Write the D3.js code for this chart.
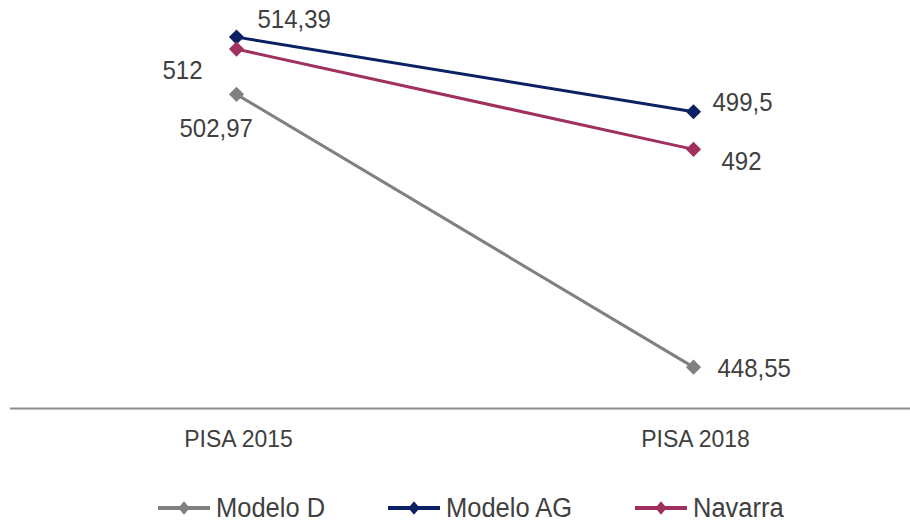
<!DOCTYPE html>
<html><head><meta charset="utf-8">
<script src="https://cdn.jsdelivr.net/npm/d3@7"></script>
<style>html,body{margin:0;padding:0;background:#fff;}svg{display:block;font-family:"Liberation Sans",Arial,sans-serif;}</style>
</head><body><svg id="c" width="910" height="524"></svg>
<script>
const categories = ["PISA 2015", "PISA 2018"];
const seriesNames = ["Modelo D", "Modelo AG", "Navarra"];
const modeloD = [502.97, 448.55];
const modeloAG = [514.39, 499.5];
const navarra = [512, 492];
const labelsD = ["502,97", "448,55"];
const labelsAG = ["514,39", "499,5"];
const labelsN = ["512", "492"];
const colors = ["#808080", "#0b2163", "#a0305d"];

const series = [
  {name: seriesNames[0], values: modeloD, labels: labelsD, color: colors[0],
   pos: [{dx: -57, dy: 43}, {dx: 24, dy: 10}]},
  {name: seriesNames[1], values: modeloAG, labels: labelsAG, color: colors[1],
   pos: [{dx: 21, dy: -9}, {dx: 19, dy: -1}]},
  {name: seriesNames[2], values: navarra, labels: labelsN, color: colors[2],
   pos: [{dx: -74, dy: 30}, {dx: 28, dy: 21}]}
];

const svg = d3.select("#c");
const x = d3.scaleBand().domain(categories).range([8, 922]);
const y = d3.scaleLinear().domain([440, 520]).range([410, 9]);
const cx = d => x(d) + x.bandwidth() / 2;
const textColor = "#404040";

function vtext(sel, px, py, size) {
  // slightly taller glyphs, as in the reference
  return sel.attr("transform", `translate(${px},${py}) scale(1,1.06)`).attr("font-size", size);
}

svg.append("line").attr("x1", 10).attr("x2", 910)
  .attr("y1", y(440) - 1.5).attr("y2", y(440) - 1.5)
  .attr("stroke", "#8c8c8c").attr("stroke-width", 2);

categories.forEach(c => {
  vtext(svg.append("text"), cx(c) + 2, 447, 23)
    .attr("text-anchor", "middle").attr("fill", textColor).text(c);
});

const line = d3.line().x((d, i) => cx(categories[i])).y(d => y(d));

series.forEach(s => {
  svg.append("path").attr("d", line(s.values)).attr("fill", "none")
    .attr("stroke", s.color).attr("stroke-width", 3);
  s.values.forEach((v, i) => {
    svg.append("path").attr("d", d3.symbol().type(d3.symbolSquare).size(115)())
      .attr("transform", `translate(${cx(categories[i])},${y(v)}) rotate(45)`)
      .attr("fill", s.color);
    const p = s.pos[i];
    vtext(svg.append("text"), cx(categories[i]) + p.dx, y(v) + p.dy, 24)
      .attr("fill", textColor).text(s.labels[i]);
  });
});

const legendX = [158, 388, 635];
series.forEach((s, i) => {
  const lx = legendX[i], ly = 508;
  svg.append("line").attr("x1", lx).attr("x2", lx + 52).attr("y1", ly).attr("y2", ly)
    .attr("stroke", s.color).attr("stroke-width", 4);
  svg.append("path").attr("d", d3.symbol().type(d3.symbolSquare).size(64)())
    .attr("transform", `translate(${lx + 26},${ly}) scale(1,1.2) rotate(45)`).attr("fill", s.color);
  vtext(svg.append("text"), lx + 58, ly + 9, 25.5).attr("fill", textColor).text(s.name);
});
</script></body></html>
